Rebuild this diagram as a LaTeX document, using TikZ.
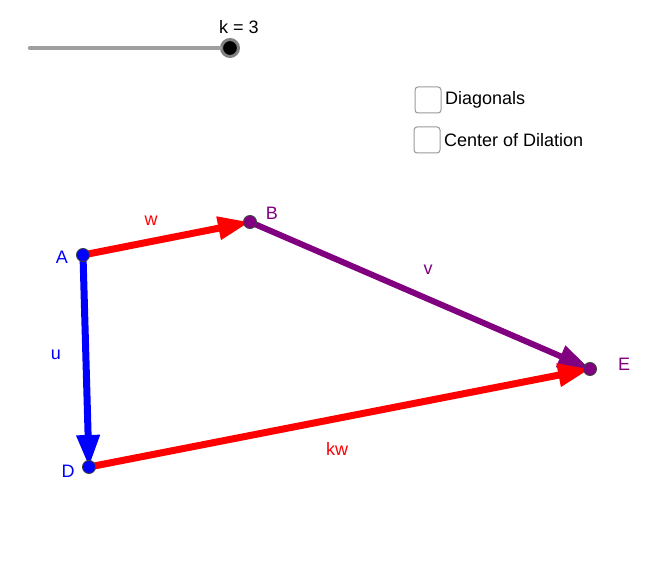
\documentclass[tikz,border=0pt]{standalone}
\usepackage{fontspec}
\setmainfont{Liberation Sans}
\usetikzlibrary{arrows.meta}
\definecolor{ggpurple}{RGB}{128,0,128}
\definecolor{ggblue}{RGB}{0,0,255}
\tikzset{
  pt/.style={circle, draw=black!75, line width=0.9pt, inner sep=0pt, minimum size=13pt},
  vec/.style={line width=7pt, -{Triangle[length=32pt,width=22pt]}},
  lbl/.style={font=\fontsize{18}{20}\selectfont},
  chk/.style={draw=gray!80, rounded corners=3pt, minimum size=26pt, line width=1pt}
}
\begin{document}
\begin{tikzpicture}[x=1pt, y=-1pt]
    \useasboundingbox (0,0) rectangle (662,577);

    % slider
    \coordinate (s0) at (30,48);
    \node[circle, fill=black, draw=gray, line width=3pt, minimum size=17pt, inner sep=0pt] (knob) at (230,48) {};
    \draw[line width=4.5pt, gray!75, line cap=round] (s0) -- (knob);
    \node[lbl] (k) at (239,27) {k = 3};

    % check boxes
    \node[chk] (c1) at (428,100) {};
    \node[lbl, right=0pt] at (c1.east) {Diagonals};
    \node[chk] (c2) at (427,140) {};
    \node[lbl, right=0pt] at (c2.east) {Center of Dilation};

    \coordinate (A) at (83,255);
    \coordinate (B) at (250,222);
    \coordinate (D) at (89,467);
    \coordinate (E) at (590,369);

    \draw[vec, red] (A) -- (B);
    \draw[vec, ggpurple, line width=6pt] (B) -- (E);
    \draw[vec, ggblue] (A) -- (D);
    \draw[vec, red] (D) -- (E);

    \node[lbl, red] (w) at (151,221) {w};
    \node[lbl, ggpurple] (v) at (428,270) {v};
    \node[lbl, ggblue] (u) at (56,355) {u};
    \node[lbl, red] (kw) at (337,449) {kw};

    \node[pt, fill=ggblue] at (A) {};
    \node[pt, fill=ggpurple] at (B) {};
    \node[pt, fill=ggblue] at (D) {};
    \node[pt, fill=ggpurple] at (E) {};

    \node[lbl, ggblue] at (62,257) {A};
    \node[lbl, ggpurple] at (272,213) {B};
    \node[lbl, ggblue] at (68,471) {D};
    \node[lbl, ggpurple] at (624,364) {E};

\end{tikzpicture}
\end{document}
